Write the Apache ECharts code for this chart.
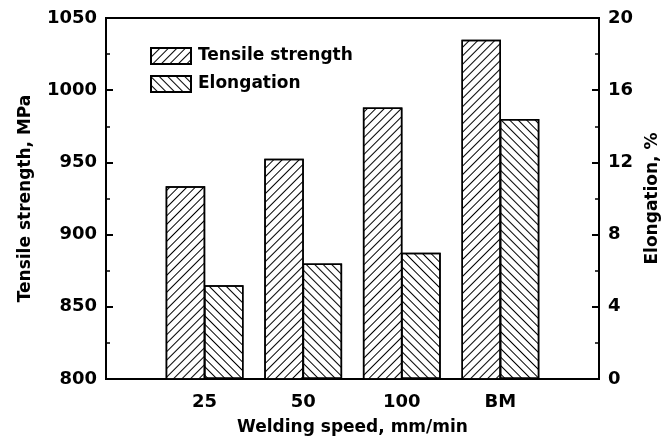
<!DOCTYPE html>
<html>
<head>
<meta charset="utf-8">
<script src="https://cdn.jsdelivr.net/npm/echarts@6/dist/echarts.min.js"></script>
<style>html,body{margin:0;padding:0;background:#fff;}#c{width:663px;height:441px;}</style>
</head>
<body>
<div id="c"></div>
<script>
var categories = ['25', '50', '100', 'BM'];
var tensileStrength = [933.5, 952.5, 988, 1035];
var elongation = [5.2, 6.4, 7.0, 14.4];
var leftTicks = [800, 850, 900, 950, 1000, 1050];
var rightTicks = [0, 4, 8, 12, 16, 20];

var FONT = 'DejaVu Sans';
var axisCats = [''].concat(categories).concat(['']);
function pad(arr) { return ['-'].concat(arr).concat(['-']); }

var chart = echarts.init(document.getElementById('c'), null, {renderer: 'canvas'});
var lineStyle = {color: '#000', width: 2};
var txt = {color: '#000', fontFamily: FONT, fontWeight: 'bold', fontSize: 17};
var tickTxt = {color: '#000', fontFamily: FONT, fontWeight: 'bold', fontSize: 18};

chart.setOption({
  animation: false,
  backgroundColor: '#fff',
  grid: {left: 106, right: 64, top: 18, bottom: 62, containLabel: false, outerBoundsMode: 'none',
         show: true, borderColor: '#000', borderWidth: 2, backgroundColor: 'transparent'},
  legend: {
    orient: 'vertical', left: 145, top: 42, itemWidth: 40, itemHeight: 16, itemGap: 10, icon: 'rect',
    textStyle: {color: '#000', fontFamily: FONT, fontWeight: 'bold', fontSize: 17, padding: [0, 0, 0, 2]},
    data: ['Tensile strength', 'Elongation']
  },
  xAxis: {
    type: 'category', data: axisCats, boundaryGap: false,
    axisLine: {lineStyle: lineStyle}, axisTick: {show: false},
    axisLabel: Object.assign({margin: 14, interval: 0}, tickTxt),
    name: 'Welding speed, mm/min', nameLocation: 'middle', nameGap: 40,
    nameTextStyle: txt, splitLine: {show: false}
  },
  yAxis: [{
    type: 'value', min: leftTicks[0], max: leftTicks[leftTicks.length - 1], interval: 50,
    axisLine: {show: true, lineStyle: lineStyle},
    axisTick: {show: true, inside: true, length: 7, lineStyle: {color: '#000', width: 2}},
    minorTick: {show: true, splitNumber: 2, length: 4, lineStyle: {color: '#000', width: 1.5}},
    axisLabel: Object.assign({margin: 9, formatter: function (v) { return String(v); }}, tickTxt),
    splitLine: {show: false},
    name: 'Tensile strength, MPa', nameLocation: 'middle', nameGap: 72, nameRotate: 90,
    nameTextStyle: txt
  }, {
    type: 'value', min: rightTicks[0], max: rightTicks[rightTicks.length - 1], interval: 4,
    position: 'right',
    axisLine: {show: true, lineStyle: lineStyle},
    axisTick: {show: true, inside: true, length: 7, lineStyle: {color: '#000', width: 2}},
    minorTick: {show: true, splitNumber: 2, length: 4, lineStyle: {color: '#000', width: 1.5}},
    axisLabel: Object.assign({margin: 9, formatter: function (v) { return String(v); }}, tickTxt),
    splitLine: {show: false},
    name: 'Elongation, %', nameLocation: 'middle', nameGap: 43, nameRotate: 90,
    nameTextStyle: txt
  }],
  series: [{
    name: 'Tensile strength', type: 'bar', yAxisIndex: 0,
    data: pad(tensileStrength), barWidth: 39.5, barGap: '-3%',
    itemStyle: {
      color: '#fff', borderColor: '#000', borderWidth: 1.5,
      decal: {symbol: 'rect', symbolSize: 1, color: '#000', dashArrayX: [1, 0], dashArrayY: [1, 5], rotation: -Math.PI / 4}
    }
  }, {
    name: 'Elongation', type: 'bar', yAxisIndex: 1,
    data: pad(elongation), barWidth: 39.5, barGap: '-3%',
    itemStyle: {
      color: '#fff', borderColor: '#000', borderWidth: 1.5,
      decal: {symbol: 'rect', symbolSize: 1, color: '#000', dashArrayX: [1, 0], dashArrayY: [1, 5], rotation: Math.PI / 4}
    }
  }]
});
</script>
</body>
</html>
